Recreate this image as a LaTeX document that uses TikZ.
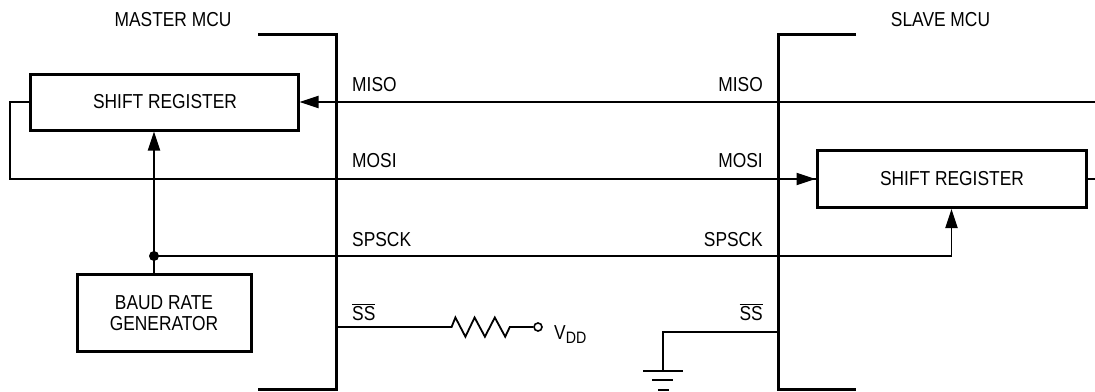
\documentclass[tikz,border=0pt]{standalone}
\usepackage{fontspec}
\setmainfont[FakeStretch=0.86]{Liberation Sans}
\usetikzlibrary{arrows.meta}
\tikzset{
  thinw/.style={line width=1.9pt},
  thickw/.style={line width=3pt},
  conn/.style={thinw},
  arr/.style={thinw,-{Triangle[length=19pt,width=12pt]}},
  bus/.style={thickw,line cap=butt,line join=miter},
  blockbox/.style={draw,thickw,align=center,inner sep=0pt,font=\fontsize{20.2pt}{21pt}\selectfont},
  lab/.style={inner sep=0pt,font=\fontsize{20.2pt}{21pt}\selectfont},
  dot/.style={circle,fill=black,inner sep=0pt,minimum size=10pt},
  opendot/.style={circle,draw,fill=white,line width=1.6pt,inner sep=0pt,minimum size=8pt}
}
\begin{document}
\begin{tikzpicture}[x=1pt,y=-1pt]
\useasboundingbox (0,0) rectangle (1095,391);
% bus brackets
\coordinate (mt) at (258,34); \coordinate (mb) at (258,389);
\coordinate (st) at (856,34); \coordinate (sb) at (856,389);
\coordinate (mtc) at (336,34); \coordinate (mbc) at (336,389);
\coordinate (stc) at (778,34); \coordinate (sbc) at (778,389);
\draw[bus] (mt) -- (mtc) -- (mbc) -- (mb);
\draw[bus] (st) -- (stc) -- (sbc) -- (sb);
% blocks
\node[blockbox,minimum width=268pt,minimum height=56pt] (msr) at (164,102) {\hspace*{2pt}SHIFT REGISTER};
\node[blockbox,minimum width=269pt,minimum height=57pt] (ssr) at (951.5,179) {\hspace*{1pt}SHIFT REGISTER};
\node[blockbox,minimum width=174pt,minimum height=77pt] (brg) at (164,313) {BAUD RATE\\GENERATOR};
% free ends
\coordinate (misoR) at (1095,102);
\coordinate (stubR) at (1095,179);
\coordinate (mLeft) at (10,102);
\coordinate (mLeftB) at (10,179);
\node[dot] (jn) at (154,256) {};
% connectors
\draw[arr] (misoR) -- (msr.east |- misoR);
\draw[conn] (msr.west) -- (mLeft) -- (mLeftB) -- (ssr.west);
\draw[arr] (mLeftB) -- (ssr.west);
\draw[conn] (ssr.east) -- (stubR);
\draw[arr] (jn.center) -- (jn.center |- msr.south);
\draw[conn] (brg.north -| jn) -- (jn.center);
\draw[arr] (jn.center) -| (ssr.south);
% master SS with resistor
\coordinate (mss) at (336,327);
\node[opendot] (vdd) at (538,327) {};
\draw[conn,line width=1.8pt,line join=miter] (mss) -- (451.6,327) -- (455.4,317.5) -- (465.4,336.7) -- (474.6,317.5) -- (484.9,336.7) -- (494.8,317.5) -- (505.2,336.7) -- (509.8,327) -- (vdd.west);
\node[lab,anchor=base west] (vddl) at (554,339) {V\raisebox{-4.5pt}{\fontsize{16.5pt}{17pt}\selectfont DD}};
% slave SS and ground
\coordinate (sss) at (778,332);
\coordinate (gnd) at (663,371);
\draw[conn] (sss) -| (gnd);
\coordinate (g1l) at (643,371); \coordinate (g1r) at (683,371);
\coordinate (g2l) at (652,380); \coordinate (g2r) at (673,380);
\coordinate (g3l) at (658,390); \coordinate (g3r) at (669,390);
\draw[conn] (g1l) -- (g1r);
\draw[conn] (g2l) -- (g2r);
\draw[conn] (g3l) -- (g3r);
% labels
\node[lab] (mtitle) at (173,20) {MASTER MCU};
\node[lab] (stitle) at (940.5,20) {SLAVE MCU};
\node[lab,anchor=base west] (l1) at (352,91) {MISO};
\node[lab,anchor=base west] (l2) at (352,167) {MOSI};
\node[lab,anchor=base west] (l3) at (352,246) {SPSCK};
\node[lab,anchor=base west] (l4) at (352,320) {$\overline{\mbox{SS}}$};
\node[lab,anchor=base east] (r1) at (763,91) {MISO};
\node[lab,anchor=base east] (r2) at (763,167) {MOSI};
\node[lab,anchor=base east] (r3) at (763,246) {SPSCK};
\node[lab,anchor=base east] (r4) at (763,320) {$\overline{\mbox{SS}}$};
\end{tikzpicture}
\end{document}
